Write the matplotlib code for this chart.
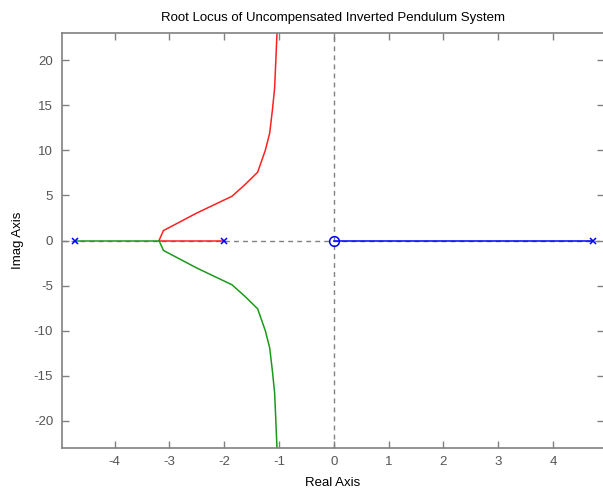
import numpy as np
import matplotlib
matplotlib.use("Agg")
import matplotlib.pyplot as plt

plt.rcParams['font.family'] = ['Liberation Sans', 'DejaVu Sans']
plt.rcParams['axes.unicode_minus'] = False

# open-loop poles and zero
poles = [-4.73, -2.0, 4.73]
zeros = [0.0]

# branch (upper half), from breakaway upward
branch_re = [-3.19, -3.11, -2.5, -1.86, -1.62, -1.39, -1.25, -1.17, -1.12, -1.08, -1.06, -1.03]
branch_im = [0.0, 1.1, 3.05, 4.9, 6.2, 7.57, 10.0, 11.9, 14.5, 16.9, 19.7, 24.0]

# real-axis segments
red_axis_re = [-2.0, -3.19]
green_axis_re = [-4.73, -3.19]
blue_axis_re = [4.73, 0.0]

red = '#ff2020'
green = '#1a9a1a'
blue = '#0000ff'
grey = '#808080'

fig = plt.figure(figsize=(6.03, 4.92), dpi=100)
ax = fig.add_axes([0.102, 0.0894, 0.8995, 0.8435])

# dashed axes through origin
ax.axhline(0, color=grey, ls=(0, (3.5, 3)), lw=1, zorder=1)
ax.axvline(0, color=grey, ls=(0, (3.5, 3)), lw=1, zorder=1)

br = np.array(branch_re)
bi = np.array(branch_im)
ax.plot(red_axis_re, [0, 0], color=red, lw=1.1, zorder=2)
ax.plot(br, bi, color=red, lw=1.1, zorder=2)
ax.plot(green_axis_re, [0, 0], color=green, lw=1.1, zorder=2)
ax.plot(br, -bi, color=green, lw=1.1, zorder=2)
ax.plot(blue_axis_re, [0, 0], color=blue, lw=1.1, zorder=2)

ax.plot(poles, np.zeros(len(poles)), 'x', color=blue, ms=5, mew=1.1, zorder=3)
ax.plot(zeros, np.zeros(len(zeros)), 'o', color=blue, mfc='none', ms=7, mew=1.1, zorder=3)

ax.set_xlim(-4.97, 4.93)
ax.set_ylim(-23, 23)
ax.set_xticks([-4, -3, -2, -1, 0, 1, 2, 3, 4])
ax.set_yticks([-20, -15, -10, -5, 0, 5, 10, 15, 20])

for s in ax.spines.values():
    s.set_color(grey)
    s.set_linewidth(1.2)
ax.tick_params(direction='in', length=5, width=1, color=grey, labelcolor='#555555',
               labelsize=9.5, top=True, right=True, pad=6)

ax.set_xlabel('Real Axis', fontsize=9.5, labelpad=6)
ax.set_ylabel('Imag Axis', fontsize=9.5, labelpad=7)
ax.set_title('Root Locus of Uncompensated Inverted Pendulum System', fontsize=9.5, pad=9)

fig.savefig('out.png', dpi=100)
